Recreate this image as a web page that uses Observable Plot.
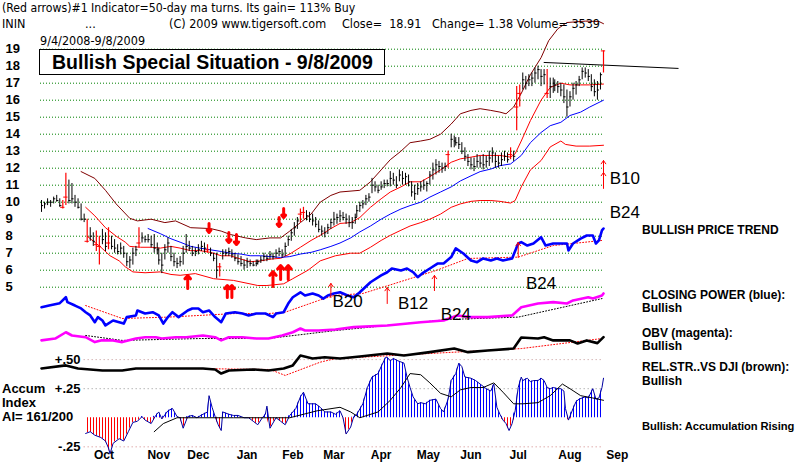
<!DOCTYPE html>
<html><head><meta charset="utf-8">
<script src="https://cdn.jsdelivr.net/npm/d3@7"></script>
<script src="https://cdn.jsdelivr.net/npm/@observablehq/plot@0.6"></script>
<style>
body{margin:0;background:#fff;}
#wrap{position:relative;width:800px;height:468px;overflow:hidden;font-family:"Liberation Sans",Arial,sans-serif;background:#fff;}
.t{position:absolute;white-space:nowrap;color:#000;line-height:14px;}
.hd{font-family:"Liberation Sans Narrow","DejaVu Sans Condensed","Liberation Sans",sans-serif;font-size:12.5px;}
.lg{font-weight:bold;font-size:12px;}
.ai{font-weight:bold;font-size:13px;}
#titlebox{position:absolute;left:39px;top:49px;width:346px;height:26px;box-sizing:border-box;border:1px solid #000;background:#fff;font-weight:bold;font-size:19.5px;line-height:24px;padding-left:12px;white-space:nowrap;}
</style></head>
<body>
<div id="wrap">
<svg width="0" height="0" style="position:absolute"><defs>
<pattern id="hatchBlue" patternUnits="userSpaceOnUse" width="3" height="6"><rect x="0" y="0" width="1" height="6" fill="#0000ff"/></pattern>
<pattern id="hatchRed" patternUnits="userSpaceOnUse" width="3" height="6"><rect x="0" y="0" width="1" height="6" fill="#ff0000"/></pattern>
</defs></svg>
</div>
<script>
// ---------- DATA (x = calendar days after 2008-09-04) ----------
const yTicks = [5,6,7,8,9,10,11,12,13,14,15,16,17,18,19];
const monthTicks = [["Oct",41],["Nov",77],["Dec",103],["Jan",135],["Feb",165],["Mar",192],["Apr",223],["May",254],["Jun",282],["Jul",313],["Aug",347],["Sep",378]];

// [day, high, low, close]
const priceBars = [
[0,10.1,9.4,9.8],[2,10.0,9.6,9.9],[4,10.2,9.8,10.0],[6,10.1,9.7,10.0],[8,10.3,9.9,10.2],[10,10.4,10.0,10.1],[12,10.2,9.7,9.8],[14,10.1,9.6,9.7],[16,11.7,9.8,10.3],[18,11.3,9.9,10.1],
[20,11.1,9.9,10.2],[22,10.4,9.7,10.0],[24,10.2,9.6,9.7],[26,9.9,8.9,9.0],[28,9.3,8.8,9.0],[30,9.0,7.6,7.7],[32,8.5,7.7,8.0],[34,8.2,7.4,7.7],[36,8.3,7.1,7.5],[38,8.0,6.3,7.4],
[40,8.4,7.5,7.8],[42,8.2,7.1,7.4],[44,8.5,7.2,7.6],[46,8.0,7.2,7.4],[48,7.8,7.0,7.3],[50,7.5,6.9,7.1],[52,7.6,6.9,7.3],[54,7.4,6.7,7.0],[56,7.0,6.2,6.5],[58,6.8,6.1,6.6],
[60,7.3,6.3,7.0],[62,7.4,6.8,7.2],[64,8.5,7.3,7.6],[66,8.2,7.6,7.9],[68,8.0,7.6,7.8],[70,8.1,7.6,7.8],[72,8.0,7.3,7.5],[74,8.1,7.0,7.3],[76,7.6,6.9,7.2],[77,7.3,6.3,6.6],
[79,7.0,5.8,6.3],[81,7.5,6.6,7.2],[83,7.9,7.0,7.6],[85,7.4,6.5,6.8],[87,7.0,6.2,6.5],[89,6.7,6.1,6.4],[91,6.8,6.2,6.5],[93,7.4,6.3,7.0],[95,8.1,7.0,7.4],[97,7.7,7.1,7.3],
[99,7.4,6.8,7.0],[101,7.3,6.8,7.1],[103,7.5,6.9,7.2],[105,7.7,7.1,7.4],[107,7.6,7.0,7.3],[109,7.5,7.0,7.2],[111,7.3,6.8,7.0],[113,7.0,6.5,6.7],[115,7.0,5.5,6.0],[117,6.4,5.6,6.2],
[119,7.2,6.6,7.0],[121,7.2,6.8,7.0],[123,7.3,6.8,7.1],[125,7.2,6.7,6.9],[127,7.0,6.5,6.7],[129,6.9,6.3,6.5],[131,6.8,6.2,6.4],[133,6.6,6.0,6.3],[135,6.7,6.1,6.5],[137,6.6,6.2,6.4],
[139,6.5,6.2,6.3],[141,6.6,6.2,6.4],[142,6.6,6.3,6.5],[144,6.8,6.4,6.6],[146,7.0,6.5,6.8],[148,6.9,6.5,6.7],[150,7.1,6.6,6.9],[152,7.0,6.6,6.8],[154,7.2,6.7,7.0],[156,7.3,6.8,7.1],
[158,7.2,6.7,6.9],[160,7.6,6.8,7.4],[162,8.0,7.4,7.8],[164,8.4,7.7,8.2],[166,8.8,8.0,8.5],[168,9.1,8.4,8.9],[170,9.6,8.8,9.3],[172,9.7,9.0,9.4],[174,9.5,8.9,9.2],[176,9.4,8.8,9.0],
[178,9.3,8.6,8.9],[180,9.1,8.5,8.7],[182,8.9,8.2,8.4],[184,8.6,8.0,8.3],[186,8.5,7.9,8.2],[188,8.7,8.1,8.5],[190,9.0,8.4,8.8],[192,9.4,8.6,9.0],[194,9.3,8.7,9.1],[196,9.5,8.8,9.2],
[198,9.4,8.9,9.1],[200,9.3,8.7,9.0],[202,9.2,8.5,8.8],[204,9.1,8.4,8.8],[206,9.3,8.7,9.1],[207,9.8,9.1,9.5],[209,10.0,9.4,9.8],[211,10.1,9.6,9.9],[213,10.4,9.8,10.2],[215,10.5,10.0,10.3],
[217,11.4,10.5,11.0],[219,11.2,10.6,10.9],[221,11.0,10.5,10.7],[223,11.2,10.7,10.9],[225,11.3,10.8,11.1],[227,11.3,10.9,11.1],[229,11.8,10.9,11.4],[231,11.7,11.0,11.3],[233,11.5,10.8,11.0],[235,11.9,11.2,11.6],
[237,11.8,11.0,11.4],[239,11.7,11.0,11.5],[241,11.6,10.9,11.2],[243,11.2,10.3,10.6],[245,11.0,10.1,10.5],[247,11.1,10.4,10.8],[249,11.2,10.6,10.9],[251,11.3,10.7,11.0],[253,11.2,10.6,11.1],[255,11.8,11.0,11.6],
[257,12.3,11.3,11.9],[259,12.5,11.6,12.2],[261,12.4,11.7,12.1],[263,12.3,11.7,12.0],[265,12.3,11.8,12.1],[267,13.0,12.0,12.8],[269,14.0,13.2,13.7],[271,13.9,13.2,13.6],[272,13.8,13.3,13.5],[274,13.8,13.1,13.4],
[276,13.5,12.8,13.0],[278,13.2,12.4,12.7],[280,12.8,12.1,12.4],[282,12.6,11.9,12.2],[284,12.6,11.8,12.1],[286,12.8,12.0,12.4],[288,12.7,12.0,12.3],[290,12.8,11.9,12.2],[292,12.7,12.0,12.4],[294,13.0,12.1,12.6],
[296,13.2,12.3,12.9],[298,12.9,12.0,12.4],[300,12.7,12.0,12.3],[302,12.9,12.1,12.5],[304,13.0,12.4,12.7],[306,12.9,12.3,12.5],[308,13.2,12.5,12.8],[310,13.0,12.4,12.7],[312,16.8,14.2,15.6],[314,16.9,15.6,16.4],
[316,17.6,16.6,17.2],[318,17.4,16.6,17.0],[320,17.5,16.8,17.2],[322,17.6,16.8,17.3],[324,17.9,17.0,17.6],[326,18.0,17.2,17.8],[328,17.8,16.8,17.4],[330,17.8,16.9,17.5],[332,17.8,16.1,16.4],[334,17.3,16.1,16.8],
[336,17.3,16.4,17.0],[337,17.2,16.5,16.9],[339,17.1,16.4,16.8],[341,17.0,16.2,16.6],[343,16.9,15.8,16.2],[345,16.6,15.0,15.6],[347,16.5,15.6,16.2],[349,17.0,16.0,16.7],[351,17.1,16.3,16.9],[353,17.4,16.8,17.2],
[355,17.9,17.2,17.7],[357,17.9,17.3,17.6],[359,17.8,17.1,17.4],[361,17.5,16.5,16.8],[363,17.2,16.2,16.5],[365,17.1,16.0,16.6],[367,17.6,16.6,17.5],[369,18.9,17.6,18.9]
];
const redBarDays = [14,16,30,36,38,44,64,109,117,170,172,267,308,312,314,332,369];

const upperBand = [[26,11.8],[35,11.4],[42,10.7],[49,9.9],[58,9.05],[63,8.9],[72,9.0],[81,8.8],[88,8.9],[98,8.5],[111,8.45],[118,8.3],[124,8.1],[134,7.9],[141,7.8],[150,7.9],[157,7.9],[163,8.3],[170,8.8],[177,9.3],[183,10.0],[190,10.4],[196,10.6],[209,10.7],[216,11.2],[223,11.9],[229,12.5],[236,13.0],[242,13.5],[249,13.6],[255,13.7],[262,14.0],[269,14.6],[275,15.2],[282,15.4],[288,15.5],[295,15.4],[301,15.3],[305,15.2],[310,15.6],[315,16.4],[321,17.5],[328,18.5],[333,19.5],[339,20.2],[345,20.57],[357,20.65],[366,20.63],[369,20.5]];
const midBand = [[29,9.7],[35,9.2],[42,8.5],[49,8.0],[55,7.65],[58,7.4],[65,7.35],[72,7.35],[78,7.3],[85,7.4],[91,7.3],[98,7.15],[104,7.15],[111,7.05],[118,6.85],[124,6.85],[131,6.65],[137,6.5],[144,6.55],[150,6.65],[157,6.7],[163,6.95],[170,7.35],[177,7.75],[183,8.05],[190,8.45],[196,8.75],[203,8.8],[209,9.1],[216,9.7],[223,10.2],[229,10.6],[236,10.9],[242,11.2],[249,11.2],[255,11.5],[262,11.9],[269,12.35],[275,12.55],[282,12.65],[288,12.75],[295,12.75],[301,12.75],[308,12.65],[311,12.85],[315,13.6],[321,14.8],[328,16.0],[334,16.75],[341,17.0],[347,16.9],[354,16.9],[360,16.9],[369,16.95]];
const lowerBand = [[30,8.0],[39,7.35],[45,6.85],[51,6.55],[55,6.2],[60,5.9],[68,5.85],[78,5.9],[85,5.75],[91,5.7],[101,5.8],[113,5.5],[126,5.4],[142,5.1],[148,5.1],[159,5.2],[165,5.5],[175,6.0],[183,6.55],[193,6.85],[203,7.0],[209,7.0],[216,7.35],[223,7.75],[229,8.05],[236,8.35],[242,8.6],[249,8.8],[255,9.0],[262,9.3],[269,9.7],[275,9.9],[282,10.05],[288,10.1],[295,10.1],[301,10.05],[308,9.95],[311,10.1],[315,10.9],[321,11.9],[328,12.45],[334,13.25],[341,13.6],[344,13.4],[351,13.3],[360,13.3],[369,13.35]];
const ma50 = [[70,8.45],[78,8.15],[85,7.85],[91,7.65],[98,7.4],[104,7.3],[111,7.2],[118,7.1],[124,7.0],[131,6.95],[137,6.85],[144,6.85],[150,6.8],[157,6.75],[163,6.8],[170,6.95],[177,7.05],[183,7.2],[190,7.4],[196,7.6],[203,7.9],[209,8.25],[216,8.6],[223,9.0],[229,9.3],[236,9.6],[242,9.8],[249,10.0],[255,10.3],[262,10.6],[269,10.9],[275,11.25],[282,11.55],[288,11.8],[295,11.95],[301,12.15],[308,12.25],[315,12.75],[321,13.5],[328,14.1],[334,14.5],[341,14.7],[347,15.1],[354,15.3],[360,15.6],[369,16.0]];
const resistLine = [[330,18.22],[418,17.87]];

// indicator lines, drawn in the shared vertical units below the price panel
const closingPower = [[0,3.82],[5,3.92],[12,4.06],[16,4.41],[17,4.12],[22,3.92],[26,3.75],[29,3.53],[32,3.34],[35,2.94],[37,3.24],[40,3.04],[42,2.75],[47,3.04],[51,2.94],[54,2.86],[56,3.24],[62,3.34],[63,3.63],[68,3.45],[73,3.53],[77,3.34],[80,2.86],[83,3.24],[86,3.53],[90,3.24],[96,3.63],[99,3.75],[103,3.75],[106,3.53],[110,3.63],[114,3.24],[118,2.94],[121,3.45],[127,3.53],[132,3.45],[136,3.34],[141,3.45],[147,3.45],[152,3.24],[154,3.45],[159,3.53],[162,4.04],[165,4.41],[170,4.7],[173,4.51],[178,4.63],[182,4.51],[185,4.33],[188,4.51],[192,4.63],[196,4.7],[201,4.51],[205,4.41],[209,4.7],[216,5.29],[223,5.69],[227,5.88],[230,6.1],[236,5.98],[240,6.1],[244,5.88],[247,5.59],[250,5.81],[255,6.1],[260,6.39],[264,6.39],[269,6.77],[272,7.28],[277,6.98],[282,6.57],[286,6.47],[290,6.69],[295,6.57],[299,6.69],[303,6.57],[309,6.69],[313,7.57],[315,7.65],[319,7.45],[323,7.57],[328,7.94],[331,7.45],[336,7.57],[345,7.57],[346,7.16],[349,7.57],[354,7.86],[358,8.04],[362,8.04],[364,7.57],[366,7.75],[368,8.34],[369,8.45]];
const cpTrend = [[29,3.92],[53,3.16],[83,3.24],[127,3.45],[149,3.45],[160,3.53],[182,4.22],[192,4.51],[211,4.63],[259,5.98],[280,6.69],[313,6.77],[336,7.45],[368,7.75]];
const obv = [[0,1.87],[9,1.98],[16,2.35],[20,2.16],[29,2.06],[35,1.77],[39,1.87],[47,1.87],[53,1.77],[62,1.98],[68,2.06],[75,2.06],[79,1.98],[88,2.06],[95,2.06],[106,2.16],[114,2.06],[118,1.87],[123,2.06],[132,2.06],[141,1.98],[149,1.98],[158,2.16],[165,2.35],[170,2.57],[173,2.45],[182,2.45],[193,2.51],[205,2.65],[227,2.75],[249,2.94],[264,3.04],[273,3.34],[282,3.24],[293,3.24],[309,3.34],[315,3.82],[326,4.04],[336,4.12],[345,4.04],[349,4.22],[359,4.41],[362,4.33],[368,4.51],[369,4.63]];
const obvTrend = [[29,2.16],[53,1.87],[104,1.98],[149,1.98],[160,2.1],[193,2.45],[267,3.1],[313,3.24],[368,4.33]];
const relStrength = [[0,0.22],[16,0.4],[24,0.22],[40,0.1],[53,0.1],[62,0.22],[79,0.22],[95,0.22],[106,0.22],[114,0.16],[118,-0.08],[123,0.1],[139,0.16],[149,0.1],[159,0.22],[165,0.4],[170,0.98],[178,0.81],[186,0.88],[196,0.81],[209,0.92],[227,1.1],[238,0.98],[255,1.18],[271,1.39],[280,1.18],[293,1.28],[310,1.39],[315,2.04],[326,1.98],[330,2.06],[336,1.87],[347,1.87],[352,1.69],[358,1.87],[365,1.71],[369,2.06]];
const rsTrend = [[95,0.22],[150,0.16],[160,-0.19],[183,0.59],[193,0.8],[315,1.39],[368,1.98]];

// Accumulation Index (own units)
const accumIndex = [[29,-0.135],[32,-0.12],[35,-0.15],[39,-0.17],[42,-0.2],[44,-0.26],[45,-0.31],[47,-0.22],[51,-0.18],[54,-0.2],[57,-0.12],[60,-0.04],[63,-0.03],[66,0.01],[68,-0.02],[72,-0.05],[75,0.02],[77,0.05],[79,-0.01],[83,0.06],[86,0.08],[89,0.01],[91,0.0],[93,-0.09],[96,0.01],[99,0.02],[102,0.0],[106,0.03],[109,0.05],[110,0.19],[112,0.09],[114,0.01],[116,-0.06],[118,-0.11],[119,0.05],[123,0.03],[126,0.02],[129,0.02],[133,0.0],[136,0.0],[139,-0.03],[142,-0.06],[145,0.0],[147,0.03],[148,0.1],[150,-0.09],[154,0.0],[157,-0.03],[160,-0.06],[163,0.02],[167,0.08],[170,0.18],[172,0.22],[175,0.12],[177,0.12],[180,0.12],[183,0.09],[186,0.05],[190,0.05],[193,0.03],[196,0.06],[198,0.0],[200,-0.14],[203,-0.08],[205,0.01],[207,0.03],[211,0.12],[214,0.26],[217,0.35],[221,0.38],[223,0.44],[226,0.52],[227,0.52],[229,0.49],[231,0.51],[234,0.49],[236,0.48],[238,0.47],[240,0.35],[242,0.26],[244,0.18],[247,0.12],[249,0.13],[252,0.12],[255,0.15],[259,0.16],[262,0.08],[264,0.05],[267,0.16],[269,0.32],[272,0.38],[274,0.47],[276,0.44],[278,0.35],[282,0.34],[285,0.32],[288,0.29],[292,0.25],[295,0.23],[297,0.29],[299,0.09],[301,0.03],[303,-0.02],[305,-0.05],[307,-0.11],[309,-0.05],[311,0.06],[313,0.26],[315,0.35],[316,0.32],[319,0.34],[321,0.31],[323,0.32],[326,0.32],[328,0.34],[330,0.32],[332,0.26],[334,0.25],[336,0.26],[339,0.25],[341,0.25],[343,0.23],[344,0.08],[346,-0.02],[349,0.08],[351,0.14],[353,0.16],[355,0.17],[357,0.18],[359,0.17],[362,0.25],[364,0.16],[366,0.17],[368,0.26],[369,0.34]];
const accumMA = [[74,-0.12],[80,-0.05],[89,0.0],[104,0.0],[126,0.0],[148,0.0],[163,0.0],[181,0.06],[196,0.09],[203,0.05],[209,0.0],[221,0.05],[229,0.15],[236,0.26],[242,0.38],[249,0.37],[255,0.3],[262,0.21],[269,0.18],[275,0.24],[282,0.26],[290,0.26],[297,0.3],[303,0.22],[310,0.12],[316,0.12],[326,0.13],[334,0.19],[342,0.29],[347,0.25],[354,0.19],[362,0.17],[369,0.15]];
const aiTicks = [[0.5,"+.50","#c09090"],[0.25,"+.25","#909090"],[-0.25,"-.25","#d08080"]];

// signals
const bigArrows = [[110,8.75,8.22],[123,8.22,7.63],[128,8.1,7.51],[156,9.1,8.57],[159,9.63,9.1],[96,4.92,5.69],[122,4.39,5.1],[125,4.39,5.1],[152,5.04,5.92],[157,5.45,6.28],[162,5.45,6.28]];
const thinArrows = [[190,4.39,5.22],[227,4.04,4.98],[258,4.8,5.69],[313,6.75,7.63],[369,10.81,11.75],[369,11.75,12.45]];
const bLabels = [["B20",201,4.15],["B12",244,4.04],["B24",272,3.4],["B24",328,5.22],["B10",383,11.4],["B24",383,9.4]];

// ---------- BUILD ----------
const t0 = Date.UTC(2008, 8, 4);
const D = n => new Date(t0 + n * 864e5);
const AI0 = -2.68, AIK = 6.84;
const aiY = a => AI0 + a * AIK;
const redSet = new Set(redBarDays);
const isRed = b => redSet.has(b[0]);
const X = d => D(d[0]), Y = d => d[1];

const chart = Plot.plot({
  width: 800, height: 468,
  marginLeft: 40, marginRight: 197, marginTop: 0, marginBottom: 0,
  x: {type: "utc", domain: [D(0), D(369)], range: [41, 603], axis: null},
  y: {type: "linear", domain: [19, 5], range: [48.7, 286.7], axis: null},
  style: {position: "absolute", left: "0px", top: "0px", background: "transparent", overflow: "visible", fontFamily: "Liberation Sans, Arial, sans-serif"},
  marks: [
    Plot.ruleY(yTicks, {stroke: "#008000", strokeDasharray: "1,2"}),
    Plot.ruleY(aiTicks, {y: d => aiY(d[0]), x1: D(28), x2: D(369), stroke: d => d[2], strokeDasharray: "1,3"}),
    Plot.text(yTicks, {y: d => d, text: d => String(d), frameAnchor: "left", dx: -35, textAnchor: "start", fontSize: 13, fontWeight: "bold", fill: "#000"}),
    Plot.text(aiTicks, {y: d => aiY(d[0]), text: d => d[1], frameAnchor: "left", dx: 40, textAnchor: "end", fontSize: 13, fontWeight: "bold", fill: "#000"}),
    Plot.text(monthTicks, {x: d => D(d[1]), text: d => d[0], frameAnchor: "bottom", dy: -10, fontSize: 12, fontWeight: "bold", fill: "#000"}),
    // bands
    Plot.line(lowerBand, {x: X, y: Y, stroke: "#ff0000", strokeWidth: 1}),
    Plot.line(midBand, {x: X, y: Y, stroke: "#ff0000", strokeWidth: 1}),
    Plot.line(upperBand, {x: X, y: Y, stroke: "#800000", strokeWidth: 1}),
    Plot.line(ma50, {x: X, y: Y, stroke: "#0000ff", strokeWidth: 1}),
    Plot.line(resistLine, {x: X, y: Y, stroke: "#000", strokeWidth: 1}),
    // price bars
    Plot.ruleX(priceBars.filter(b => !isRed(b)), {x: X, y1: d => d[2], y2: d => d[1], stroke: "#000", strokeWidth: 1}),
    Plot.ruleY(priceBars.filter(b => !isRed(b)), {y: d => d[3], x1: X, x2: d => D(d[0] + 1.4), stroke: "#000", strokeWidth: 1}),
    Plot.ruleX(priceBars.filter(isRed), {x: X, y1: d => d[2], y2: d => d[1], stroke: "#ff0000", strokeWidth: 1.2}),
    Plot.ruleY(priceBars.filter(isRed), {y: d => d[3], x1: d => D(d[0] - 1.4), x2: d => D(d[0] + 1.4), stroke: "#ff0000", strokeWidth: 1}),
    // indicators
    Plot.line(cpTrend, {x: X, y: Y, stroke: "#ff0000", strokeWidth: 1, strokeDasharray: "1,2"}),
    Plot.line(closingPower, {x: X, y: Y, stroke: "#0000ff", strokeWidth: 2.6}),
    Plot.line(obvTrend, {x: X, y: Y, stroke: "#000", strokeWidth: 1, strokeDasharray: "1,2"}),
    Plot.line(obv, {x: X, y: Y, stroke: "#ff00ff", strokeWidth: 2.6}),
    Plot.line(rsTrend, {x: X, y: Y, stroke: "#ff0000", strokeWidth: 1, strokeDasharray: "1,2"}),
    Plot.line(relStrength, {x: X, y: Y, stroke: "#000", strokeWidth: 2.6}),
    // accumulation index
    Plot.areaY(accumIndex, {x: X, y1: () => aiY(0), y2: d => aiY(Math.max(d[1], 0)), fill: "url(#hatchBlue)"}),
    Plot.areaY(accumIndex, {x: X, y1: () => aiY(0), y2: d => aiY(Math.min(d[1], 0)), fill: "url(#hatchRed)"}),
    Plot.line(accumIndex, {x: X, y: d => aiY(d[1]), stroke: "#0000a0", strokeWidth: 1}),
    Plot.line(accumMA, {x: X, y: d => aiY(d[1]), stroke: "#000", strokeWidth: 1}),
    // arrows & signals
    Plot.arrow(bigArrows, {x1: X, x2: X, y1: d => d[1], y2: d => d[2], stroke: "#ff0000", strokeWidth: 3, headLength: 7, headAngle: 80}),
    Plot.arrow(thinArrows, {x1: X, x2: X, y1: d => d[1], y2: d => d[2], stroke: "#ff0000", strokeWidth: 1, headLength: 6, headAngle: 70}),
    Plot.text(bLabels, {x: d => D(d[1]), y: d => d[2], text: d => d[0], fontSize: 17, fill: "#000"})
  ]
});
const wrap = document.getElementById("wrap");
wrap.appendChild(chart);

function addText(cls, txt, left, top, extra) {
  const el = document.createElement("div");
  el.className = "t " + cls;
  el.textContent = txt;
  el.style.left = left + "px";
  el.style.top = top + "px";
  if (extra) Object.assign(el.style, extra);
  wrap.appendChild(el);
}
addText("hd", "(Red arrows)#1 Indicator=50-day ma turns. Its gain= 113% Buy", 2, 1, {fontSize: "12.2px"});
addText("hd", "ININ", 2, 17);
addText("hd", "...", 85, 17);
addText("hd", "(C) 2009 www.tigersoft.com", 169, 17);
addText("hd", "Close=  18.91", 342, 17, {whiteSpace: "pre"});
addText("hd", "Change= 1.38 Volume= 3539", 432, 17);
addText("hd", "9/4/2008-9/8/2009", 40, 34);
const tb = document.createElement("div");
tb.id = "titlebox";
tb.textContent = "Bullish Special Situation - 9/8/2009";
wrap.appendChild(tb);
addText("ai", "Accum", 2, 382);
addText("ai", "Index", 2, 396);
addText("ai", "AI= 161/200", 2, 410);
addText("lg", "BULLISH PRICE TREND", 642, 223);
addText("lg", "CLOSING POWER (blue):", 642, 288);
addText("lg", "Bullish", 642, 301);
addText("lg", "OBV (magenta):", 642, 326);
addText("lg", "Bullish", 642, 339);
addText("lg", "REL.STR..VS DJI (brown):", 642, 360);
addText("lg", "Bullish", 642, 374);
addText("lg", "Bullish: Accumulation Rising", 642, 419, {fontSize: "11.2px", letterSpacing: "-0.1px"});
</script>
</body></html>
